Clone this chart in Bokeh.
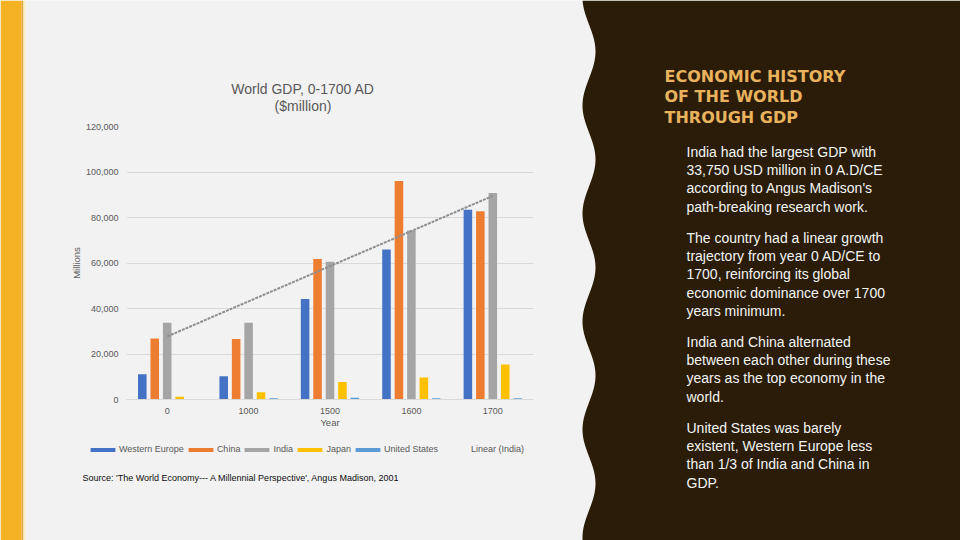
import numpy as np
from bokeh.plotting import figure
from bokeh.models import (Range1d, FactorRange, FixedTicker, NumeralTickFormatter, Legend,
                          LegendItem, ColumnDataSource)
from bokeh.transform import dodge
from bokeh.core.properties import value
from bokeh.embed import file_html
from bokeh.resources import INLINE

# ---------------- data ----------------
years = ["0", "1000", "1500", "1600", "1700"]
western_europe = [11115, 10165, 44162, 65955, 83395]
china = [26820, 26550, 61800, 96000, 82800]
india = [33750, 33750, 60500, 74250, 90750]
japan = [1200, 3188, 7700, 9620, 15390]
united_states = [272, 520, 800, 600, 527]
series_names = ["Western Europe", "China", "India", "Japan", "United States"]
trend_name = "Linear (India)"
y_ticks = [0, 20000, 40000, 60000, 80000, 100000, 120000]

chart_title = ["World GDP, 0-1700 AD", "($million)"]
heading_lines = ["ECONOMIC HISTORY", "OF THE WORLD", "THROUGH GDP"]
paragraphs = [
    ["India had the largest GDP with", "33,750 USD million in 0 A.D/CE",
     "according to Angus Madison's", "path-breaking research work."],
    ["The country had a linear growth", "trajectory from year 0 AD/CE to",
     "1700, reinforcing its global", "economic dominance over 1700", "years minimum."],
    ["India and China alternated", "between each other during these",
     "years as the top economy in the", "world."],
    ["United States was barely", "existent, Western Europe less",
     "than 1/3 of India and China in", "GDP."],
]
source_text = "Source: 'The World Economy--- A Millennial Perspective', Angus Madison, 2001"

# ---------------- style ----------------
FONT = "Liberation Sans"
GREY_TXT = "#595959"
BG = "#f2f2f2"
DARK = "#2a1c07"
colors = ["#4472C4", "#ED7D31", "#A5A5A5", "#FFC000", "#5B9BD5"]
TREND_COLOR = "#8f8f8f"

# ---------------- background slide ----------------
bg = figure(width=960, height=540, x_range=Range1d(0, 960), y_range=Range1d(540, 0),
            x_axis_location=None, y_axis_location=None, toolbar_location=None,
            output_backend="svg", min_border=0, outline_line_color=None,
            background_fill_color=BG, border_fill_color=BG)
bg.grid.visible = False
bg.styles = {"position": "absolute", "left": "0px", "top": "0px"}
bg.quad(left=[0], right=[21], bottom=[540], top=[0], color="#f5b324", line_color=None)
bg.quad(left=[21], right=[23], bottom=[540], top=[0], color="#e2aa45", line_color=None)
bg.quad(left=[23], right=[25], bottom=[540], top=[0], color="#fbefc6", line_color=None)

wy = np.arange(0, 541, 2.0)
wx = 588.5 - 6.5 * np.cos(2 * np.pi * (wy - 105) / 108.0)
bg.patch(x=list(wx) + [960, 960], y=list(wy) + [540, 0], fill_color=DARK, line_color=None)

head_y = [75.5, 96, 116.5]
bg.text(x=[664] * 3, y=head_y, text=heading_lines, text_font=value("DejaVu Sans"),
        text_font_size="16px", text_font_style="bold", text_color="#e9b35e",
        text_baseline="middle")

para_start = [151, 237, 341, 427]
line_gap = 18.4
bx, by, bt = [], [], []
for start, lines in zip(para_start, paragraphs):
    for i, ln in enumerate(lines):
        bx.append(686)
        by.append(start + i * line_gap)
        bt.append(ln)
bg.text(x=bx, y=by, text=bt, text_font=value(FONT), text_font_size="14px",
        text_color="#f4f4f4", text_baseline="middle")

# chart title (two centred lines)
bg.text(x=[302.5, 302.5], y=[88, 105], text=chart_title, text_font=value(FONT),
        text_font_size="14px", text_color=GREY_TXT, text_align="center",
        text_baseline="middle")

bg.text(x=[82], y=[477], text=[source_text], text_font=value(FONT), text_font_size="9px",
        text_color="#0d0d0d", text_baseline="middle")

# legend (on the slide layer; swatch renderers carry no visible data)
nan1 = np.array([np.nan])
leg_items = []
for n, col in zip(series_names, colors):
    rr = bg.vbar(x=nan1, top=nan1, bottom=nan1, width=1, fill_color=col, line_color=None)
    leg_items.append(LegendItem(label=n, renderers=[rr]))
rt = bg.line(x=nan1, y=nan1, line_color=TREND_COLOR, line_alpha=0)
leg_items.append(LegendItem(label=trend_name, renderers=[rt]))
legend = Legend(items=leg_items, orientation="horizontal", location=(87, 85.5),
                glyph_width=31, glyph_height=5, label_height=11, label_standoff=1,
                spacing=1, padding=0, margin=0, border_line_color=None,
                background_fill_alpha=0, label_text_font=FONT,
                label_text_font_size="9px", label_text_color=GREY_TXT)
bg.add_layout(legend, "center")

# ---------------- chart (transparent, overlaid) ----------------
p = figure(width=575, height=540, x_range=FactorRange(*years), y_range=Range1d(0, 120000),
           toolbar_location=None, output_backend="svg",
           min_border_left=126, min_border_right=42, min_border_top=126, min_border_bottom=141,
           background_fill_alpha=0, border_fill_alpha=0, outline_line_color=None)
p.styles = {"position": "absolute", "left": "0px", "top": "0px"}

src = ColumnDataSource(dict(year=years, we=western_europe, cn=china, ind=india,
                            jp=japan, us=united_states))
cols = ["we", "cn", "ind", "jp", "us"]
offsets = [-0.306, -0.153, 0.0, 0.153, 0.306]
for c, off, col in zip(cols, offsets, colors):
    p.vbar(x=dodge("year", off, range=p.x_range), top=c, width=0.105, source=src,
           fill_color=col, line_color=None)

# linear trend for India
idx = np.arange(1, len(india) + 1)
slope, intercept = np.polyfit(idx, india, 1)
trend = list(slope * idx + intercept)
p.line(x=years, y=trend, line_color=TREND_COLOR, line_width=2, line_dash="3 1")

# axes
p.yaxis.ticker = FixedTicker(ticks=y_ticks)
p.yaxis.formatter = NumeralTickFormatter(format="0,0")
p.yaxis.axis_line_color = None
p.yaxis.major_label_standoff = 8
p.yaxis.axis_label = "Millions"
p.yaxis.axis_label_standoff = 1
p.xaxis.axis_label = "Year"
p.xaxis.axis_label_standoff = 0
p.xaxis.major_label_standoff = 8
p.xaxis.axis_line_color = "#d9d9d9"
for ax in (p.xaxis, p.yaxis):
    ax.major_tick_line_color = None
    ax.minor_tick_line_color = None
    ax.major_tick_out = 0
    ax.major_tick_in = 0
    ax.minor_tick_out = 0
    ax.minor_tick_in = 0
    ax.major_label_text_font = FONT
    ax.major_label_text_font_size = "9px"
    ax.major_label_text_color = GREY_TXT
    ax.axis_label_text_font = FONT
    ax.axis_label_text_font_size = "9.5px"
    ax.axis_label_text_font_style = "normal"
    ax.axis_label_text_color = GREY_TXT
p.xgrid.grid_line_color = None
p.ygrid.grid_line_color = "#d9d9d9"

open("out.html", "w").write(file_html([bg, p], INLINE))
